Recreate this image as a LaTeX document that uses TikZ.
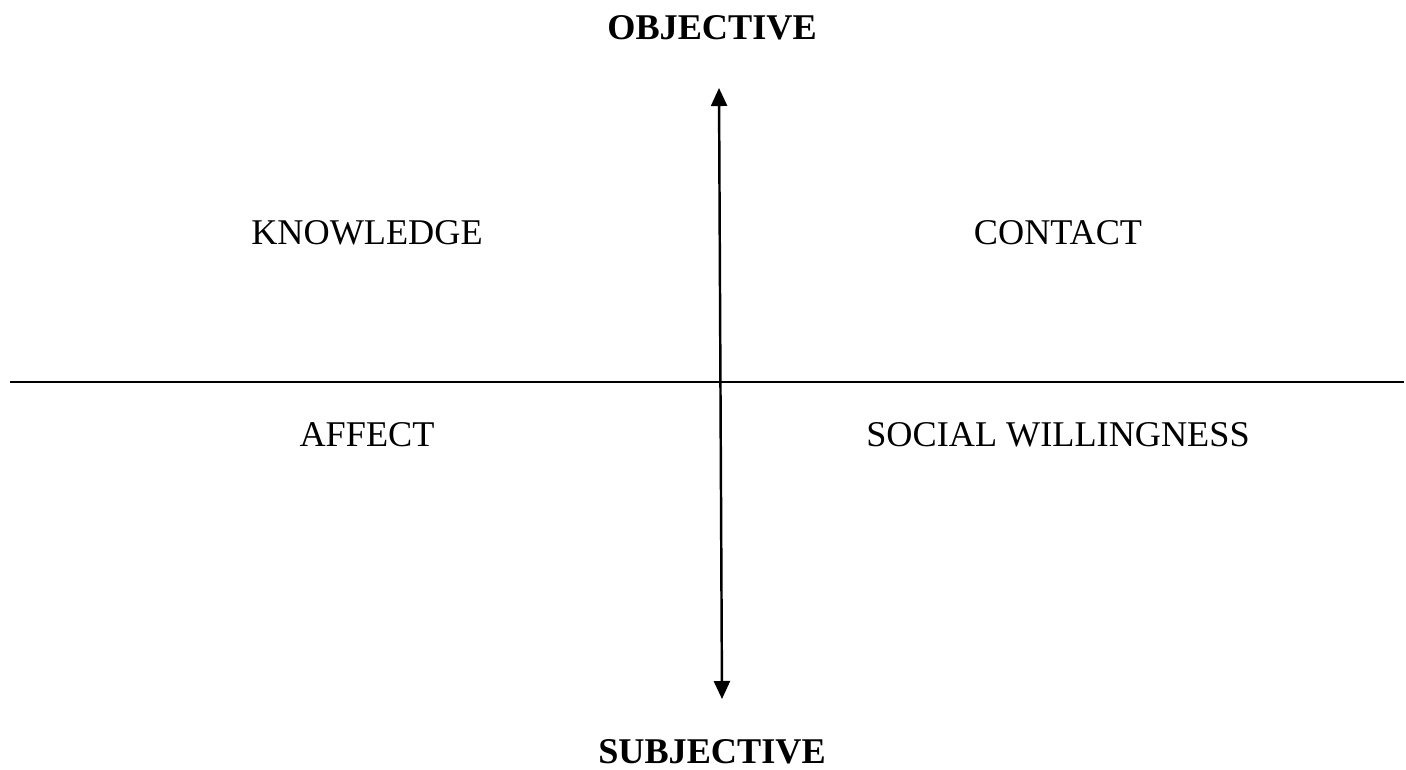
\documentclass[tikz,border=0pt]{standalone}
\usepackage{fontspec}
\setmainfont{Liberation Serif}
\usetikzlibrary{positioning,arrows.meta}

\begin{document}
\begin{tikzpicture}[x=0.01cm, y=-0.01cm,
    label/.style={font=\fontsize{10.3}{12}\selectfont, inner sep=0pt},
    pole/.style={font=\fontsize{10.3}{12}\selectfont\bfseries, inner sep=0pt}]
        \useasboundingbox (0,0) rectangle (1406,769);

        % Poles
        \node[pole] (obj) at (712,28) {OBJECTIVE};
        \node[pole] (subj) at (712,752) {SUBJECTIVE};

        % Axes
        \coordinate (top) at (719,88);
        \coordinate (bottom) at (722,699);
        \coordinate (left) at (10,382);
        \coordinate (right) at (1404,382);
        \draw[line width=0.7pt] (left) -- (right);
        \draw[line width=0.7pt, {Triangle[length=1.8mm, width=1.6mm]}-{Triangle[length=1.8mm, width=1.6mm]}] (top) -- (bottom);

        % Quadrants
        \node[label] (know) at (367,233) {KNOWLEDGE};
        \node[label] (cont) at (1058,233) {CONTACT};
        \node[label] (aff) at (367,435) {AFFECT};
        \node[label] (soc) at (1058,435) {SOCIAL WILLINGNESS};
    \end{tikzpicture}
\end{document}
